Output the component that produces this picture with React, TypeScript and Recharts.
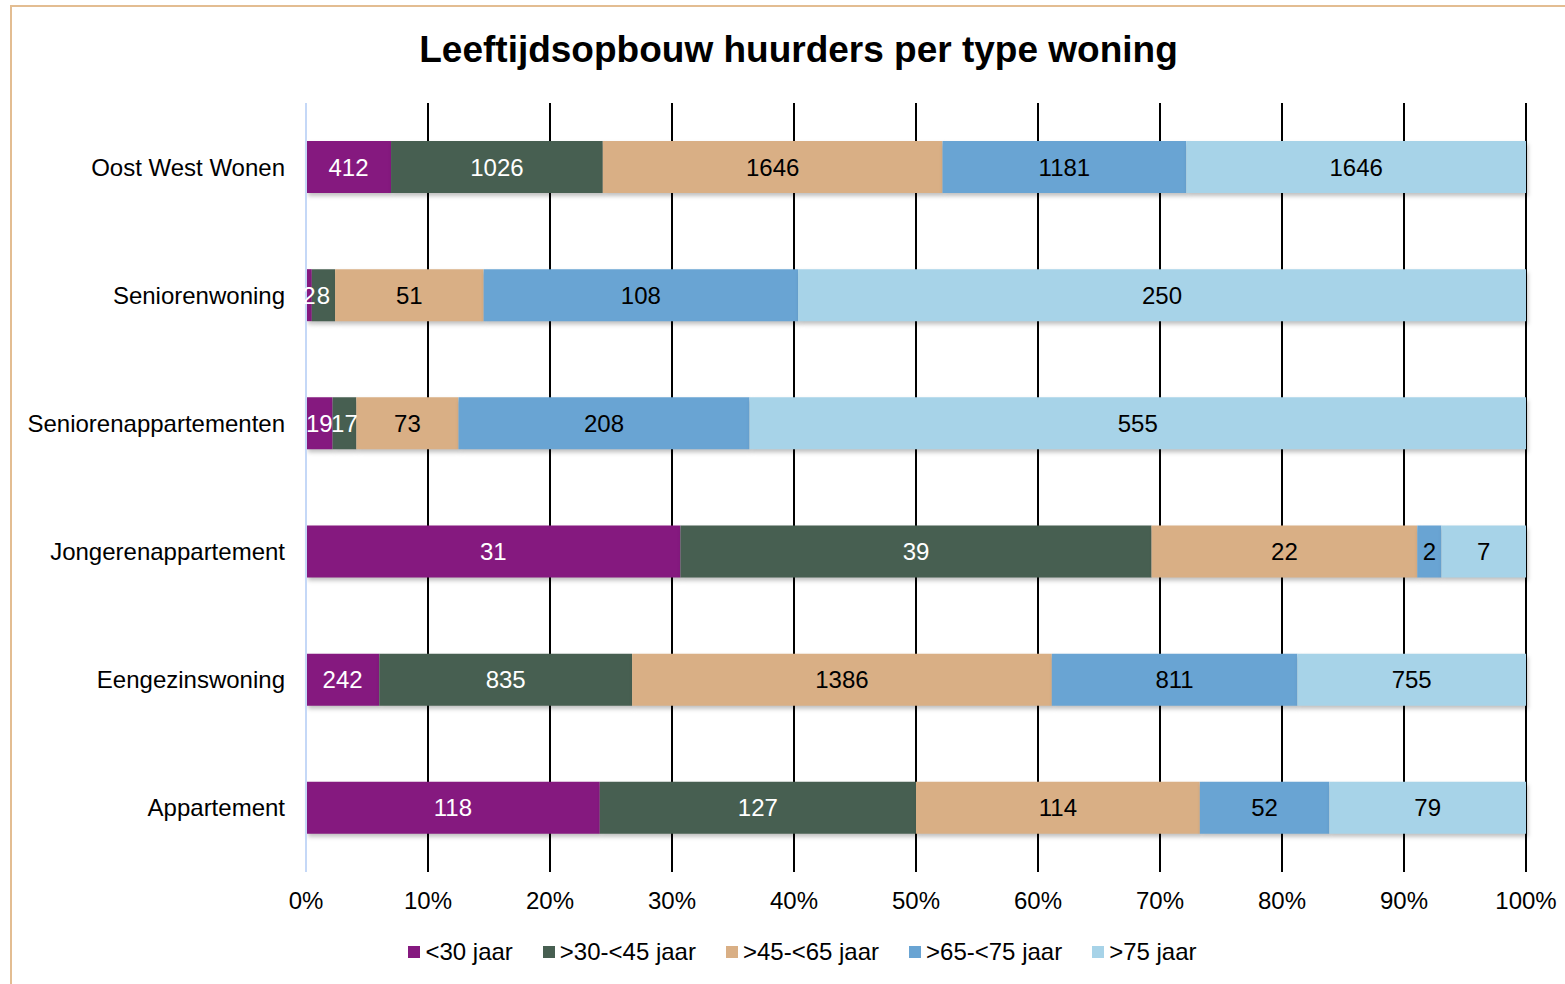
import React from 'react';
import { BarChart, Bar, XAxis, YAxis, CartesianGrid, Legend, LabelList } from 'recharts';

const categories = [
  'Oost West Wonen',
  'Seniorenwoning',
  'Seniorenappartementen',
  'Jongerenappartement',
  'Eengezinswoning',
  'Appartement',
];

const under30 = [412, 2, 19, 31, 242, 118];
const from30to45 = [1026, 8, 17, 39, 835, 127];
const from45to65 = [1646, 51, 73, 22, 1386, 114];
const from65to75 = [1181, 108, 208, 2, 811, 52];
const over75 = [1646, 250, 555, 7, 755, 79];

const percentTicks = [0, 0.1, 0.2, 0.3, 0.4, 0.5, 0.6, 0.7, 0.8, 0.9, 1];

const FONT = '"Liberation Sans", Arial, sans-serif';

const series = [
  { key: 'a', name: '<30 jaar', values: under30, color: '#85197f', text: '#ffffff' },
  { key: 'b', name: '>30-<45 jaar', values: from30to45, color: '#475f51', text: '#ffffff' },
  { key: 'c', name: '>45-<65 jaar', values: from45to65, color: '#d9af85', text: '#000000' },
  { key: 'd', name: '>65-<75 jaar', values: from65to75, color: '#69a4d3', text: '#000000' },
  { key: 'e', name: '>75 jaar', values: over75, color: '#a7d3e8', text: '#000000' },
];

const data = categories.map((name, i) => {
  const row: Record<string, any> = { name };
  series.forEach((s) => {
    row[s.key] = s.values[i];
  });
  return row;
});

const makeLabel = (values: number[], color: string) => (props: any) => {
  const { x, y, width, height, index } = props;
  return (
    <text
      x={Number(x) + Number(width) / 2}
      y={Number(y) + Number(height) / 2}
      fill={color}
      fontSize={24}
      fontFamily={FONT}
      textAnchor="middle"
      dominantBaseline="central"
    >
      {values[index]}
    </text>
  );
};

const renderLegend = () => (
  <div
    style={{
      display: 'flex',
      justifyContent: 'center',
      alignItems: 'center',
      height: 32,
      fontFamily: FONT,
      fontSize: 24,
      color: '#000',
      paddingLeft: 40,
    }}
  >
    {series.map((s, i) => (
      <div
        key={s.key}
        style={{ display: 'flex', alignItems: 'center', marginRight: i < series.length - 1 ? 30 : 0 }}
      >
        <span style={{ width: 12, height: 12, background: s.color, display: 'inline-block', marginRight: 5 }} />
        <span>{s.name}</span>
      </div>
    ))}
  </div>
);

export default function App() {
  return (
    <div
      style={{
        position: 'fixed',
        left: 0,
        top: 0,
        width: 1565,
        height: 984,
        overflow: 'hidden',
        background: '#fff',
        fontFamily: FONT,
      }}
    >
      <div
        style={{
          position: 'absolute',
          left: 10,
          top: 5,
          width: 1600,
          height: 1000,
          border: '2px solid #e3bd92',
        }}
      />
      <div
        style={{
          position: 'absolute',
          left: 0,
          top: 27,
          width: 1597,
          textAlign: 'center',
          fontSize: 37,
          fontWeight: 'bold',
          lineHeight: '46px',
          color: '#000',
        }}
      >
        Leeftijdsopbouw huurders per type woning
      </div>
      <div style={{ position: 'absolute', left: 0, top: 0 }}>
        <BarChart
          width={1565}
          height={984}
          data={data}
          layout="vertical"
          stackOffset="expand"
          margin={{ top: 103, right: 39, bottom: 0, left: 0 }}
        >
          <CartesianGrid horizontal={false} vertical stroke="#000" strokeWidth={2} />
          <XAxis
            type="number"
            domain={[0, 1]}
            ticks={percentTicks}
            tickFormatter={(v: number) => `${Math.round(v * 100)}%`}
            axisLine={false}
            tickLine={false}
            tickSize={0}
            tickMargin={20}
            height={80}
            tick={{ fill: '#000', fontSize: 24, fontFamily: FONT }}
            interval={0}
          />
          <YAxis
            type="category"
            dataKey="name"
            width={306}
            axisLine={{ stroke: '#c5d8f7', strokeWidth: 2 }}
            tickLine={false}
            tickSize={0}
            tickMargin={21}
            tick={{ fill: '#000', fontSize: 24, fontFamily: FONT }}
            interval={0}
          />
          {series.map((s) => (
            <Bar
              key={s.key}
              dataKey={s.key}
              name={s.name}
              stackId="all"
              fill={s.color}
              barSize={52}
              isAnimationActive={false}
              style={{ filter: 'drop-shadow(2px 3px 2px rgba(0,0,0,0.25))' }}
            >
              <LabelList dataKey={s.key} content={makeLabel(s.values, s.text)} />
            </Bar>
          ))}
          <Legend
            verticalAlign="bottom"
            content={renderLegend}
            wrapperStyle={{ top: 936, left: 0, width: 1565, height: 32 }}
          />
        </BarChart>
      </div>
    </div>
  );
}
